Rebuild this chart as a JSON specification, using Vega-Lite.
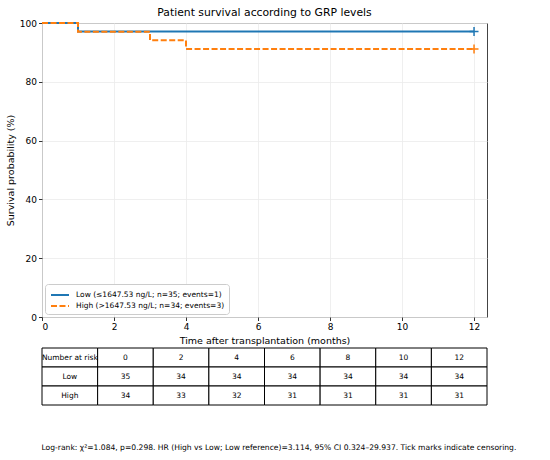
{
  "$schema": "https://vega.github.io/schema/vega-lite/v6.json",
  "background": "white",
  "padding": {"left": 4, "top": 6, "right": 5, "bottom": 5},
  "bounds": "flush",
  "spacing": 31,
  "resolve": {"legend": {"color": "independent", "strokeDash": "independent", "stroke": "independent"}},
  "datasets": {
    "survival": [
      {"group": "Low (≤1647.53 ng/L; n=35; events=1)", "time": 0, "surv": 100, "censor": false},
      {"group": "Low (≤1647.53 ng/L; n=35; events=1)", "time": 1, "surv": 97.14, "censor": false},
      {"group": "Low (≤1647.53 ng/L; n=35; events=1)", "time": 12, "surv": 97.14, "censor": true},
      {"group": "High (>1647.53 ng/L; n=34; events=3)", "time": 0, "surv": 100, "censor": false},
      {"group": "High (>1647.53 ng/L; n=34; events=3)", "time": 1, "surv": 97.06, "censor": false},
      {"group": "High (>1647.53 ng/L; n=34; events=3)", "time": 3, "surv": 94.12, "censor": false},
      {"group": "High (>1647.53 ng/L; n=34; events=3)", "time": 4, "surv": 91.18, "censor": false},
      {"group": "High (>1647.53 ng/L; n=34; events=3)", "time": 12, "surv": 91.18, "censor": true}
    ],
    "risk": [
      {"row": 0, "col": 0, "cell": "Number at risk"},
      {"row": 0, "col": 1, "cell": "0"},
      {"row": 0, "col": 2, "cell": "2"},
      {"row": 0, "col": 3, "cell": "4"},
      {"row": 0, "col": 4, "cell": "6"},
      {"row": 0, "col": 5, "cell": "8"},
      {"row": 0, "col": 6, "cell": "10"},
      {"row": 0, "col": 7, "cell": "12"},
      {"row": 1, "col": 0, "cell": "Low"},
      {"row": 1, "col": 1, "cell": "35"},
      {"row": 1, "col": 2, "cell": "34"},
      {"row": 1, "col": 3, "cell": "34"},
      {"row": 1, "col": 4, "cell": "34"},
      {"row": 1, "col": 5, "cell": "34"},
      {"row": 1, "col": 6, "cell": "34"},
      {"row": 1, "col": 7, "cell": "34"},
      {"row": 2, "col": 0, "cell": "High"},
      {"row": 2, "col": 1, "cell": "34"},
      {"row": 2, "col": 2, "cell": "33"},
      {"row": 2, "col": 3, "cell": "32"},
      {"row": 2, "col": 4, "cell": "31"},
      {"row": 2, "col": 5, "cell": "31"},
      {"row": 2, "col": 6, "cell": "31"},
      {"row": 2, "col": 7, "cell": "31"}
    ]
  },
  "vconcat": [
    {
      "width": 445,
      "height": 294,
      "title": {
        "text": "Patient survival according to GRP levels",
        "fontSize": 10.8,
        "fontWeight": "normal",
        "color": "black",
        "offset": 1
      },
      "data": {"name": "survival"},
      "encoding": {
        "x": {
          "field": "time",
          "type": "quantitative",
          "scale": {"domain": [0, 12.36], "nice": false},
          "axis": {
            "title": "Time after transplantation (months)",
            "values": [0, 2, 4, 6, 8, 10, 12]
          }
        },
        "y": {
          "field": "surv",
          "type": "quantitative",
          "scale": {"domain": [0, 100], "nice": false},
          "axis": {
            "title": "Survival probability (%)",
            "values": [0, 20, 40, 60, 80, 100]
          }
        }
      },
      "layer": [
        {
          "mark": {"type": "line", "interpolate": "step-after", "strokeWidth": 2},
          "encoding": {
            "color": {
              "field": "group",
              "type": "nominal",
              "scale": {
                "domain": ["Low (≤1647.53 ng/L; n=35; events=1)", "High (>1647.53 ng/L; n=34; events=3)"],
                "range": ["#1f77b4", "#ff7f0e"]
              },
              "legend": {
                "title": null,
                "orient": "bottom-left",
                "offset": 3
              }
            },
            "strokeDash": {
              "field": "group",
              "type": "nominal",
              "scale": {
                "domain": ["Low (≤1647.53 ng/L; n=35; events=1)", "High (>1647.53 ng/L; n=34; events=3)"],
                "range": [[1, 0], [6, 2.5]]
              },
              "legend": {
                "title": null,
                "orient": "bottom-left",
                "offset": 3
              }
            }
          }
        },
        {
          "transform": [{"filter": "datum.censor"}],
          "mark": {
            "type": "point",
            "shape": "M-1,0L1,0M0,-1L0,1",
            "filled": false,
            "size": 80,
            "strokeWidth": 1.5,
            "opacity": 1
          },
          "encoding": {
            "stroke": {
              "field": "group",
              "type": "nominal",
              "scale": {
                "domain": ["Low (≤1647.53 ng/L; n=35; events=1)", "High (>1647.53 ng/L; n=34; events=3)"],
                "range": ["#1f77b4", "#ff7f0e"]
              },
              "legend": null
            }
          }
        }
      ]
    },
    {
      "width": 445,
      "height": 57,
      "view": {"stroke": null},
      "title": {
        "text": "Log-rank: χ²=1.084, p=0.298. HR (High vs Low; Low reference)=3.114, 95% CI 0.324–29.937. Tick marks indicate censoring.",
        "orient": "bottom",
        "anchor": "start",
        "fontSize": 7.6,
        "fontWeight": "normal",
        "color": "black",
        "offset": 38
      },
      "data": {"name": "risk"},
      "encoding": {
        "x": {
          "field": "col",
          "type": "ordinal",
          "scale": {"paddingInner": 0, "paddingOuter": 0},
          "axis": null
        },
        "y": {
          "field": "row",
          "type": "ordinal",
          "scale": {"paddingInner": 0, "paddingOuter": 0},
          "axis": null
        }
      },
      "layer": [
        {
          "mark": {"type": "rect", "fill": "white", "stroke": "black", "strokeWidth": 1}
        },
        {
          "mark": {"type": "text", "fontSize": 7.5, "color": "black", "align": "center", "baseline": "middle"},
          "encoding": {"text": {"field": "cell", "type": "nominal"}}
        }
      ]
    }
  ],
  "config": {
    "font": "DejaVu Sans",
    "view": {"stroke": "#444", "strokeWidth": 1},
    "axis": {
      "domain": false,
      "grid": true,
      "gridColor": "#ebebeb",
      "gridWidth": 0.8,
      "tickColor": "#333",
      "tickSize": 3.5,
      "labelFontSize": 9,
      "labelColor": "black",
      "labelPadding": 2,
      "titleFontSize": 9.5,
      "titleFontWeight": "normal",
      "titleColor": "black",
      "titlePadding": 4
    },
    "legend": {
      "strokeColor": "#cccccc",
      "fillColor": "white",
      "padding": 4,
      "cornerRadius": 3,
      "labelFontSize": 7.5,
      "labelColor": "black",
      "symbolType": "M-1.5,0L1.5,0",
      "symbolSize": 144,
      "symbolStrokeWidth": 2,
      "symbolOffset": 4,
      "rowPadding": 0,
      "labelOffset": 9
    }
  }
}
